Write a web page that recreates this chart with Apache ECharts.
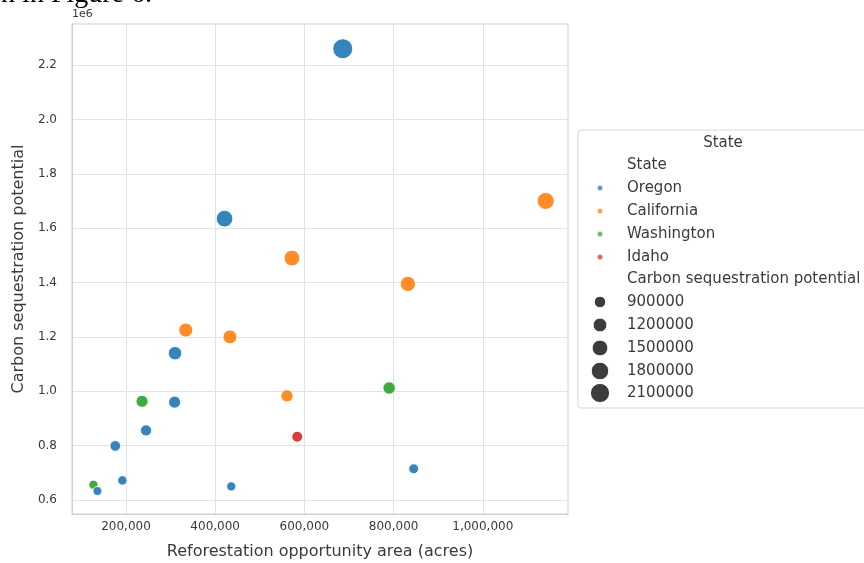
<!DOCTYPE html>
<html>
<head>
<meta charset="utf-8">
<script src="https://cdn.jsdelivr.net/npm/echarts@6/dist/echarts.min.js"></script>
<style>
  html, body { margin: 0; padding: 0; background: #ffffff; }
  #chart { width: 864px; height: 563px; }
</style>
</head>
<body>
<div id="chart"></div>
<script>
// Reforestation opportunity area (acres) and carbon sequestration potential per site
const states = ['Oregon', 'California', 'Washington', 'Idaho'];
const stateColors = ['#1f77b4', '#ff7f0e', '#2ca02c', '#d62728'];

const oregonArea = [686000, 421000, 310000, 309000, 245000, 176000, 845000, 192000, 136000, 436000];
const oregonCarbon = [2260000, 1635000, 1140000, 960000, 856000, 799000, 715000, 672000, 633000, 650000];

const californiaArea = [1141000, 572000, 832000, 334000, 433000, 561000];
const californiaCarbon = [1700000, 1490000, 1395000, 1225000, 1200000, 983000];

const washingtonArea = [790000, 236000, 127000];
const washingtonCarbon = [1012000, 963000, 656000];

const idahoArea = [584000];
const idahoCarbon = [833000];

const xTicks = [200000, 400000, 600000, 800000, 1000000];
const yTicks = [600000, 800000, 1000000, 1200000, 1400000, 1600000, 1800000, 2000000, 2200000];
const sizeLegendValues = [900000, 1200000, 1500000, 1800000, 2100000];

const areasByState = [oregonArea, californiaArea, washingtonArea, idahoArea];
const carbonByState = [oregonCarbon, californiaCarbon, washingtonCarbon, idahoCarbon];

// Marker area grows linearly with carbon potential between the smallest and largest site
const allCarbon = [].concat(oregonCarbon, californiaCarbon, washingtonCarbon, idahoCarbon);
const cMin = Math.min.apply(null, allCarbon);
const cMax = Math.max.apply(null, allCarbon);
const areaMin = 81, areaMax = 400;
function markerDiameter(v) {
  const t = (v - cMin) / (cMax - cMin);
  return Math.sqrt(areaMin + t * (areaMax - areaMin));
}

const FONT = '"DejaVu Sans", sans-serif';
const TEXT = '#3a3a3a';

// Draw order: Oregon last so it sits above overlapping points
const drawOrder = [1, 2, 3, 0];
const series = drawOrder.map(function (i) {
  return {
    name: states[i],
    type: 'scatter',
    data: areasByState[i].map(function (a, k) { return [a, carbonByState[i][k]]; }),
    symbolSize: function (val) { return markerDiameter(val[1]); },
    itemStyle: { color: stateColors[i], opacity: 0.9, borderColor: '#ffffff', borderWidth: 1 },
    emphasis: { disabled: true }
  };
});

// Legend drawn as graphic elements (hue entries and size entries)
const legendLeft = 578, legendTop = 130;
const markerX = 600, textX = 627;
const rowY = [165, 188, 211, 234, 257, 279, 302, 325, 348, 371, 393];
const LEGEND_FONT = '15px ' + FONT;
const legendEls = [];
legendEls.push({
  type: 'rect', shape: { x: legendLeft, y: legendTop, width: 300, height: 278, r: 3 },
  style: { fill: 'rgba(255,255,255,0.85)', stroke: '#d6d6d6', lineWidth: 1 }, z: 10
});
legendEls.push({
  type: 'text', x: 723, y: 143, z: 11,
  style: { text: 'State', font: '15px ' + FONT, fill: TEXT, align: 'center', verticalAlign: 'middle' }
});
legendEls.push({
  type: 'text', x: textX, y: rowY[0], z: 11,
  style: { text: 'State', font: LEGEND_FONT, fill: TEXT, verticalAlign: 'middle' }
});
states.forEach(function (s, i) {
  legendEls.push({
    type: 'circle', shape: { cx: markerX, cy: rowY[i + 1], r: 2.5 }, z: 11,
    style: { fill: stateColors[i], opacity: 0.7 }
  });
  legendEls.push({
    type: 'text', x: textX, y: rowY[i + 1], z: 11,
    style: { text: s, font: LEGEND_FONT, fill: TEXT, verticalAlign: 'middle' }
  });
});
legendEls.push({
  type: 'text', x: textX, y: rowY[5], z: 11,
  style: { text: 'Carbon sequestration potential', font: LEGEND_FONT, fill: TEXT, verticalAlign: 'middle' }
});
sizeLegendValues.forEach(function (v, i) {
  legendEls.push({
    type: 'circle', shape: { cx: markerX, cy: rowY[6 + i], r: markerDiameter(v) / 2 }, z: 11,
    style: { fill: '#3c3c3c', stroke: '#ffffff', lineWidth: 1 }
  });
  legendEls.push({
    type: 'text', x: textX, y: rowY[6 + i], z: 11,
    style: { text: String(v), font: LEGEND_FONT, fill: TEXT, verticalAlign: 'middle' }
  });
});

const chart = echarts.init(document.getElementById('chart'), null, { renderer: 'canvas' });
chart.setOption({
  animation: false,
  backgroundColor: '#ffffff',
  grid: {
    left: 72, top: 24, right: 296, bottom: 49,
    outerBoundsMode: 'none', containLabel: false,
    show: true, borderColor: '#d0d0d0', borderWidth: 1
  },
  xAxis: {
    type: 'value',
    min: 79000,
    max: 1191000,
    name: 'Reforestation opportunity area (acres)',
    nameLocation: 'middle',
    nameGap: 30,
    nameTextStyle: { fontFamily: FONT, fontSize: 16, color: TEXT },
    axisLine: { show: true, lineStyle: { color: '#d0d0d0' } },
    axisTick: { show: false, customValues: xTicks },
    axisLabel: {
      customValues: xTicks, margin: 7, fontFamily: FONT, fontSize: 12, color: TEXT,
      formatter: function (v) { return Number(v).toLocaleString('en-US'); }
    },
    splitLine: { show: true, lineStyle: { color: '#e2e2e2', width: 1 } }
  },
  yAxis: {
    type: 'value',
    min: 548500,
    max: 2351000,
    name: 'Carbon sequestration potential',
    nameLocation: 'middle',
    nameGap: 44,
    nameTextStyle: { fontFamily: FONT, fontSize: 16, color: TEXT },
    axisLine: { show: true, lineStyle: { color: '#d0d0d0' } },
    axisTick: { show: false, customValues: yTicks },
    axisLabel: {
      customValues: yTicks, margin: 15, fontFamily: FONT, fontSize: 12, color: TEXT,
      formatter: function (v) { return (v / 1e6).toFixed(1); }
    },
    splitLine: { show: true, lineStyle: { color: '#e2e2e2', width: 1 } }
  },
  series: series,
  graphic: [
    {
      type: 'text', x: 152, y: -5, z: 20,
      style: { text: 'n in Figure 6.', font: '28px "Liberation Serif", serif', fill: '#000000', align: 'right', verticalAlign: 'middle' }
    },
    {
      type: 'text', x: 72, y: 14, z: 20,
      style: { text: '1e6', font: '11px ' + FONT, fill: TEXT, verticalAlign: 'middle' }
    }
  ].concat(legendEls)
});
</script>
</body>
</html>
